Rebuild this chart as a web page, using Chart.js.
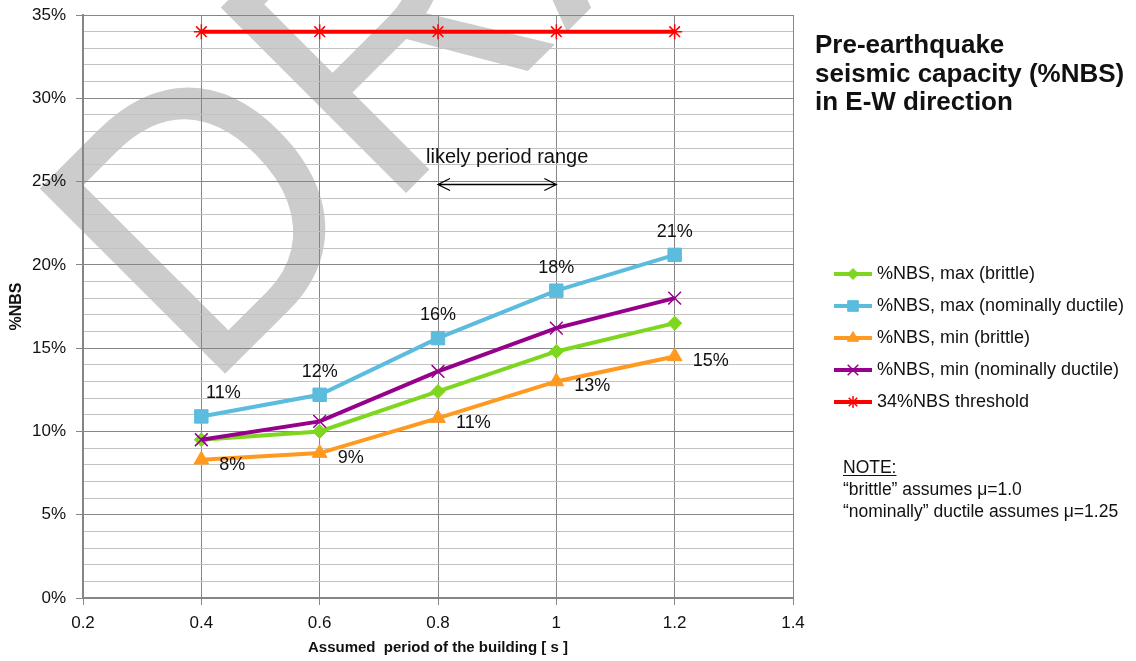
<!DOCTYPE html>
<html>
<head>
<meta charset="utf-8">
<title>Pre-earthquake seismic capacity (%NBS) in E-W direction</title>
<script src="https://cdn.jsdelivr.net/npm/chart.js@4.4.0/dist/chart.umd.min.js"></script>
<style>
    html, body { margin: 0; padding: 0; background: #fff; }
    #wrap { width: 1136px; height: 661px; }
</style>
</head>
<body>
<div id="wrap"><canvas id="nbsChart" width="1136" height="661"></canvas></div>
<script>
// values (%NBS)
const periods = [0.4, 0.6, 0.8, 1.0, 1.2];
const maxBrittle = [9.5, 10.0, 12.4, 14.8, 16.5];
const maxDuctile = [10.9, 12.2, 15.6, 18.45, 20.6];
const minBrittle = [8.3, 8.7, 10.8, 13.0, 14.5];
const minDuctile = [9.5, 10.6, 13.6, 16.2, 18.0];
const threshold = [34, 34, 34, 34, 34];

const seriesNames = [
    '%NBS, max (brittle)',
    '%NBS, max (nominally ductile)',
    '%NBS, min (brittle)',
    '%NBS, min (nominally ductile)',
    '34%NBS threshold'
];
const xTicks = [0.2, 0.4, 0.6, 0.8, 1.0, 1.2, 1.4];
const likelyRange = [0.8, 1.0];
const titleLines = ['Pre-earthquake', 'seismic capacity (%NBS)', 'in E-W direction'];
const noteLines = ['\u201Cbrittle\u201D assumes \u03BC=1.0', '\u201Cnominally\u201D ductile assumes \u03BC=1.25'];

const FONT = '"Liberation Sans", Arial, sans-serif';
const TEXT = '#111';
const GRID_MAJOR = '#868686';
const GRID_MINOR = '#c2c2c2';

const styles = [
    { color: 'rgb(126, 214, 30)', point: 'rectRot', r: 7, lr: 5.5, bw: 1 },
    { color: 'rgb(91, 188, 222)', point: 'rect', r: 9.5, lr: 7.5, bw: 1 },
    { color: 'rgb(255, 153, 31)', point: 'triangle', r: 8.5, lr: 6.5, bw: 1 },
    { color: 'rgb(150, 0, 140)', point: 'crossRot', r: 9, lr: 7.5, bw: 1.5 },
    { color: 'rgb(255, 0, 0)', point: 'star', r: 7.5, lr: 6, bw: 1.5 }
];
const seriesValues = [maxBrittle, maxDuctile, minBrittle, minDuctile, threshold];

function toPoints(values) {
    return periods.map((p, i) => ({ x: p, y: values[i] }));
}

// white page + DRAFT watermark behind everything
const watermark = {
    id: 'watermark',
    beforeDraw(chart) {
        const ctx = chart.ctx;
        ctx.save();
        ctx.fillStyle = '#fff';
        ctx.fillRect(0, 0, chart.width, chart.height);
        ctx.translate(223, 376);
        ctx.rotate(-Math.PI / 4);
        ctx.scale(0.93, 1);
        ctx.font = '381px ' + FONT;
        ctx.fillStyle = '#cccccc';
        ctx.textBaseline = 'alphabetic';
        ctx.fillText('DRAFT', -28, 0);
        ctx.restore();
    }
};

// percentage labels on the blue and orange series
const valueLabels = {
    id: 'valueLabels',
    afterDatasetsDraw(chart) {
        const ctx = chart.ctx;
        ctx.save();
        ctx.font = '18px ' + FONT;
        ctx.fillStyle = TEXT;
        ctx.textBaseline = 'middle';
        ctx.textAlign = 'center';
        chart.getDatasetMeta(1).data.forEach((pt, i) => {
            const dx = i === 0 ? 22 : 0;
            ctx.fillText(Math.round(maxDuctile[i]) + '%', pt.x + dx, pt.y - 23);
        });
        ctx.textAlign = 'left';
        chart.getDatasetMeta(2).data.forEach((pt, i) => {
            ctx.fillText(Math.round(minBrittle[i]) + '%', pt.x + 18, pt.y + 5);
        });
        ctx.restore();
    }
};

// "likely period range" arrow, title, legend and note
const sidePanel = {
    id: 'sidePanel',
    afterDraw(chart) {
        const ctx = chart.ctx;
        const xs = chart.scales.x, ys = chart.scales.y;
        ctx.save();

        // arrow between the likely periods
        const x0 = xs.getPixelForValue(likelyRange[0]);
        const x1 = xs.getPixelForValue(likelyRange[1]);
        const ay = Math.round(ys.getPixelForValue(24.85)) + 0.5;
        ctx.strokeStyle = '#000';
        ctx.lineWidth = 1.3;
        ctx.beginPath();
        ctx.moveTo(x0, ay); ctx.lineTo(x1, ay);
        ctx.moveTo(x0 + 12, ay - 6); ctx.lineTo(x0, ay); ctx.lineTo(x0 + 12, ay + 6);
        ctx.moveTo(x1 - 12, ay - 6); ctx.lineTo(x1, ay); ctx.lineTo(x1 - 12, ay + 6);
        ctx.stroke();
        ctx.font = '20px ' + FONT;
        ctx.fillStyle = TEXT;
        ctx.textAlign = 'center';
        ctx.textBaseline = 'middle';
        ctx.fillText('likely period range', (x0 + x1) / 2 + 10, ay - 27);

        // title
        ctx.textAlign = 'left';
        ctx.textBaseline = 'alphabetic';
        ctx.font = 'bold 26px ' + FONT;
        titleLines.forEach((line, i) => ctx.fillText(line, 815, 53 + i * 28.5));

        // legend
        const drawPoint = Chart.helpers && Chart.helpers.drawPoint;
        ctx.font = '18px ' + FONT;
        ctx.textBaseline = 'middle';
        seriesNames.forEach((name, i) => {
            const st = styles[i];
            const y = 274 + i * 32;
            ctx.strokeStyle = st.color;
            ctx.lineWidth = 4;
            ctx.beginPath();
            ctx.moveTo(834, y); ctx.lineTo(872, y);
            ctx.stroke();
            ctx.fillStyle = st.color;
            ctx.lineWidth = st.bw;
            if (drawPoint) {
                drawPoint(ctx, { pointStyle: st.point, radius: st.lr, borderWidth: st.bw, rotation: 0 }, 853, y);
            }
            ctx.fillStyle = TEXT;
            ctx.fillText(name, 877, y);
        });

        // note
        ctx.font = '17.5px ' + FONT;
        ctx.textBaseline = 'alphabetic';
        ctx.fillStyle = TEXT;
        ctx.fillText('NOTE:', 843, 473);
        const w = ctx.measureText('NOTE:').width;
        ctx.strokeStyle = TEXT;
        ctx.lineWidth = 1;
        ctx.beginPath();
        ctx.moveTo(843, 475.5); ctx.lineTo(843 + w, 475.5);
        ctx.stroke();
        noteLines.forEach((line, i) => ctx.fillText(line, 843, 495 + i * 21.5));

        ctx.restore();
    }
};

const datasets = seriesNames.map((name, i) => ({
    label: name,
    data: toPoints(seriesValues[i]),
    borderColor: styles[i].color,
    backgroundColor: styles[i].color,
    borderWidth: 4,
    pointStyle: styles[i].point,
    pointRadius: styles[i].r,
    pointHoverRadius: styles[i].r,
    pointBorderWidth: styles[i].bw,
    pointBorderColor: styles[i].color,
    pointBackgroundColor: styles[i].color,
    tension: 0,
    order: 10 - i
}));

Chart.defaults.font.family = FONT;
Chart.defaults.color = TEXT;

new Chart(document.getElementById('nbsChart'), {
    type: 'line',
    data: { datasets: datasets },
    options: {
        responsive: false,
        animation: false,
        devicePixelRatio: 1,
        layout: { padding: { top: 15, right: 343, bottom: 0, left: 0 } },
        plugins: {
            legend: { display: false },
            tooltip: { enabled: false }
        },
        scales: {
            x: {
                type: 'linear',
                min: 0.2,
                max: 1.4,
                afterBuildTicks: s => { s.ticks = xTicks.map(v => ({ value: v })); },
                afterFit: s => { s.height = 63; },
                ticks: {
                    font: { size: 17 },
                    color: TEXT,
                    padding: 8,
                    maxRotation: 0,
                    callback: v => String(v)
                },
                grid: { color: GRID_MAJOR, tickColor: GRID_MAJOR, tickLength: 7, lineWidth: 1 },
                border: { color: GRID_MAJOR, width: 2 },
                title: {
                    display: true,
                    text: 'Assumed  period of the building [ s ]',
                    font: { size: 15, weight: 'bold' },
                    color: TEXT,
                    padding: { top: 0, bottom: 4 }
                }
            },
            y: {
                min: 0,
                max: 35,
                afterFit: s => { s.width = 83; s.paddingTop = 0; s.paddingBottom = 0; },
                ticks: {
                    stepSize: 1,
                    autoSkip: false,
                    font: { size: 17 },
                    color: TEXT,
                    padding: 10,
                    callback: v => (v % 5 === 0 ? v + '%' : '')
                },
                grid: {
                    color: c => (c.tick && c.tick.value % 5 === 0 ? GRID_MAJOR : GRID_MINOR),
                    tickColor: c => (c.tick && c.tick.value % 5 === 0 ? GRID_MAJOR : 'rgba(0,0,0,0)'),
                    tickLength: 7,
                    lineWidth: 1
                },
                border: { color: GRID_MAJOR, width: 2 },
                title: {
                    display: true,
                    text: '%NBS',
                    font: { size: 16, weight: 'bold' },
                    color: TEXT,
                    padding: { top: 7, bottom: 0 }
                }
            }
        }
    },
    plugins: [watermark, valueLabels, sidePanel]
});
</script>
</body>
</html>
